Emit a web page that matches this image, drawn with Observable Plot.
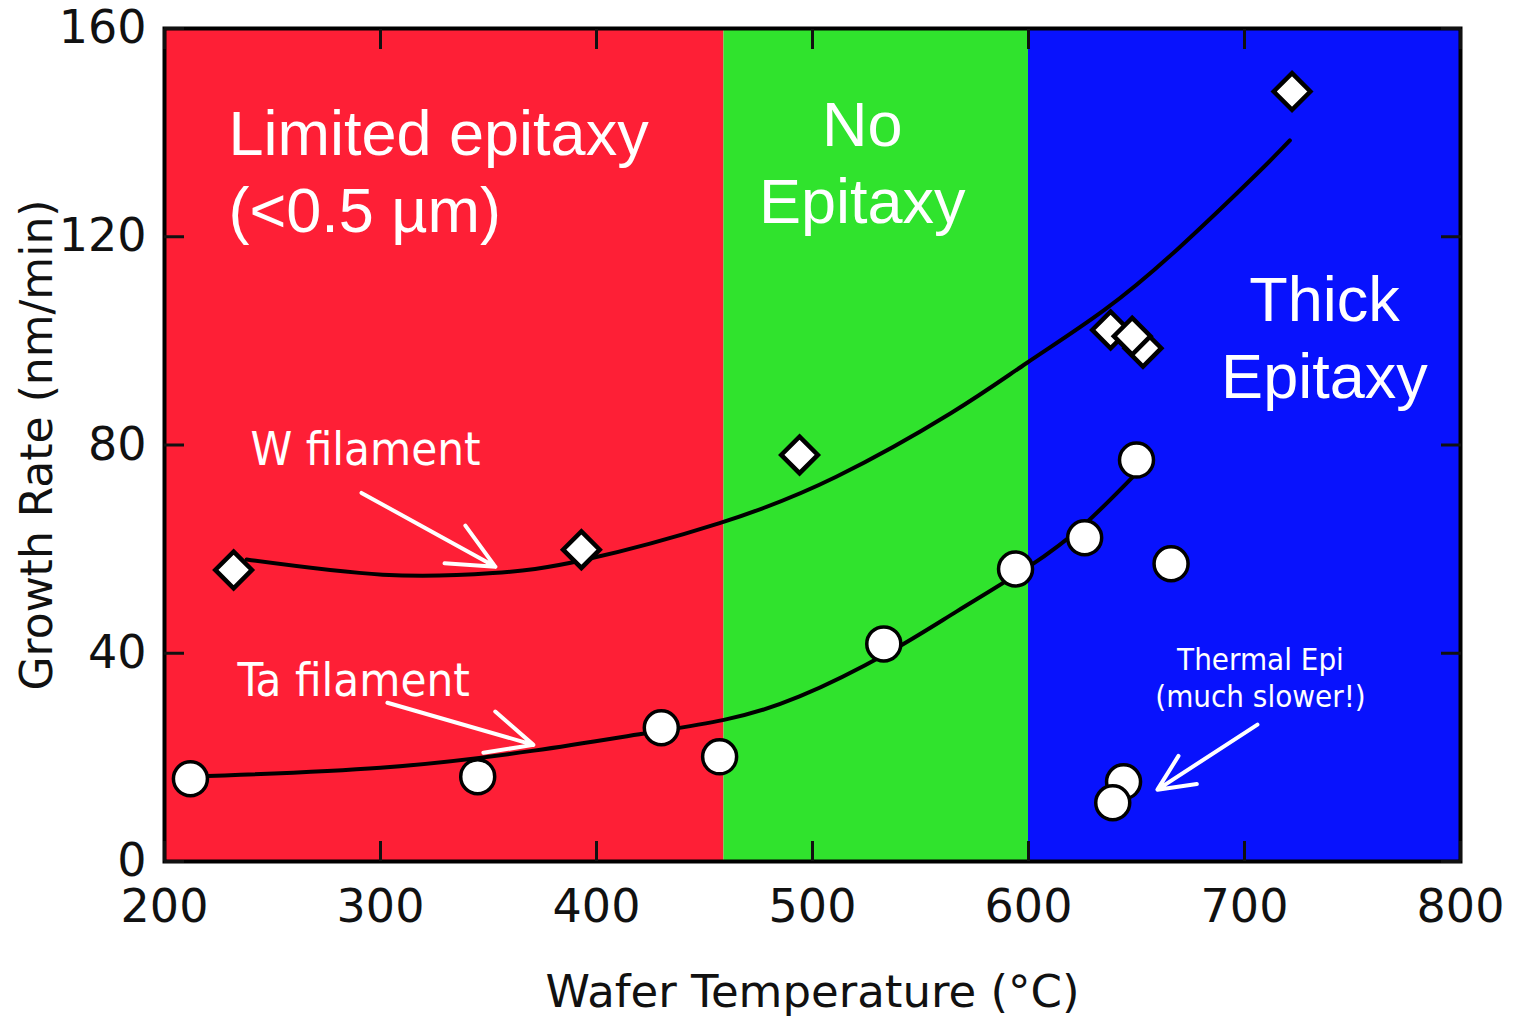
<!DOCTYPE html>
<html>
<head>
<meta charset="utf-8">
<script src="https://cdn.jsdelivr.net/npm/d3@7"></script>
<script src="https://cdn.jsdelivr.net/npm/@observablehq/plot@0.6"></script>
<style>
  html, body { margin: 0; padding: 0; background: #ffffff; }
  #chart svg { display: block; }
</style>
</head>
<body>
<div id="chart"></div>
<script>
// Growth regimes by wafer temperature
const regionNames = ["Limited epitaxy", "No epitaxy", "Thick epitaxy"];
const regionStart = [200, 459, 600];
const regionEnd = [459, 600, 800];
const regionColor = ["#fe1f36", "#30e32d", "#0812fd"];

// Measured growth rates (nm/min) — W filament
const wTemp = [232, 393, 494, 638, 653, 648, 722];
const wRate = [56.0, 59.9, 78.1, 102.1, 98.6, 100.9, 147.9];

// Measured growth rates — Ta filament
const taTemp = [212, 345, 430, 457, 533, 594, 626, 650, 666];
const taRate = [15.9, 16.3, 25.7, 20.1, 41.8, 56.2, 62.2, 77.1, 57.2];

// Thermal epitaxy (no filament)
const thermalTemp = [644, 639];
const thermalRate = [15.3, 11.3];

// Fitted trend curves
const wFitTemp = [238, 301, 352, 394, 457, 511, 564, 599, 635, 670, 706, 721];
const wFitRate = [58.0, 55.1, 55.4, 57.9, 65.0, 73.9, 86.1, 95.7, 105.9, 118.0, 132.2, 138.5];
const taFitTemp = [212, 300, 371, 422, 459, 494, 535, 567, 600, 626, 650];
const taFitRate = [16.3, 18.0, 21.3, 24.6, 27.2, 31.7, 40.1, 48.1, 56.6, 64.8, 74.6];

// Axis ticks
const xTicks = [200, 300, 400, 500, 600, 700, 800];
const yTicks = [0, 40, 80, 120, 160];

// Annotations: text and pointer arrows (temperature, rate)
const seriesLabels = ["W filament", "Ta filament"];
const seriesLabelTemp = [239.8, 233.8];
const seriesLabelRate = [79.0, 34.6];
const arrowFromTemp = [291.2, 303.2, 706.0];
const arrowFromRate = [70.8, 30.5, 26.3];
const arrowToTemp = [353.2, 370.8, 659.7];
const arrowToRate = [56.6, 22.4, 13.8];
const thermalNote = "Thermal Epi\n(much slower!)";
const thermalNoteTemp = 707.4;
const thermalNoteRate = 35.5;

const regions = regionNames.map((name, i) => ({name, start: regionStart[i], end: regionEnd[i], color: regionColor[i]}));
const pts = (xs, ys) => xs.map((t, i) => ({t, r: ys[i]}));
const arrows = arrowFromTemp.map((t, i) => ({x1: t, y1: arrowFromRate[i], x2: arrowToTemp[i], y2: arrowToRate[i]}));
const seriesText = seriesLabels.map((s, i) => ({s, t: seriesLabelTemp[i], r: seriesLabelRate[i]}));

const labelFont = "'DejaVu Sans Condensed', 'DejaVu Sans', sans-serif";
const regionFont = "'Liberation Sans', Arial, sans-serif";

const chart = Plot.plot({
  width: 1515,
  height: 1017,
  marginLeft: 164,
  marginRight: 55,
  marginTop: 28,
  marginBottom: 156,
  style: {fontFamily: "'DejaVu Sans', sans-serif", background: "#ffffff", color: "#111111", overflow: "visible"},
  x: {domain: [200, 800]},
  y: {domain: [0, 160]},
  color: {type: "identity"},
  marks: [
    Plot.rect(regions, {x1: "start", x2: "end", fill: "color"}),

    // region names
    Plot.text(["Limited epitaxy\n(<0.5 µm)"], {x: 229.6, y: 133, text: d => d, textAnchor: "start", lineAnchor: "middle", lineHeight: 1.22, fontSize: 63, fontFamily: regionFont, fill: "white"}),
    Plot.text(["No\nEpitaxy"], {x: 523, y: 134.7, text: d => d, textAnchor: "middle", lineAnchor: "middle", lineHeight: 1.22, fontSize: 63, fontFamily: regionFont, fill: "white"}),
    Plot.text(["Thick\nEpitaxy"], {x: 737, y: 101.1, text: d => d, textAnchor: "middle", lineAnchor: "middle", lineHeight: 1.22, fontSize: 63, fontFamily: regionFont, fill: "white"}),

    // series labels and pointers
    Plot.text(seriesText, {x: "t", y: "r", text: "s", textAnchor: "start", lineAnchor: "middle", fontSize: 47, fontFamily: labelFont, fill: "white"}),
    Plot.text([thermalNote], {x: thermalNoteTemp, y: thermalNoteRate, text: d => d, textAnchor: "middle", lineAnchor: "middle", lineHeight: 1.19, fontSize: 31, fontFamily: labelFont, fill: "white"}),
    Plot.arrow(arrows, {x1: "x1", y1: "y1", x2: "x2", y2: "y2", stroke: "white", strokeWidth: 4, headLength: 22, headAngle: 50}),

    // fitted curves
    Plot.line(pts(wFitTemp, wFitRate), {x: "t", y: "r", curve: "natural", stroke: "black", strokeWidth: 4}),
    Plot.line(pts(taFitTemp, taFitRate), {x: "t", y: "r", curve: "natural", stroke: "black", strokeWidth: 4}),

    // measurements
    Plot.dot(pts(wTemp, wRate), {x: "t", y: "r", symbol: "diamond2", r: 16.5, fill: "white", stroke: "black", strokeWidth: 4.5}),
    Plot.dot(pts(taTemp, taRate), {x: "t", y: "r", r: 17, fill: "white", stroke: "black", strokeWidth: 3.5}),
    Plot.dot(pts(thermalTemp, thermalRate), {x: "t", y: "r", r: 17, fill: "white", stroke: "black", strokeWidth: 3.5}),

    // frame and inward ticks on all four sides
    Plot.frame({stroke: "black", strokeWidth: 4}),
    Plot.axisX({anchor: "bottom", ticks: xTicks, tickSize: -20, tickPadding: 48, strokeWidth: 3, fontSize: 46, label: null}),
    Plot.axisX({anchor: "top", ticks: xTicks, tickSize: -20, strokeWidth: 3, fill: "none", label: null}),
    Plot.axisY({anchor: "left", ticks: yTicks, tickSize: -20, tickPadding: 38, strokeWidth: 3, fontSize: 46, label: null}),
    Plot.axisY({anchor: "right", ticks: yTicks, tickSize: -20, strokeWidth: 3, fill: "none", label: null}),

    // axis titles
    Plot.text(["Wafer Temperature (°C)"], {frameAnchor: "bottom", dy: 131, text: d => d, textAnchor: "middle", lineAnchor: "middle", fontSize: 45, fill: "#111111"}),
    Plot.text(["Growth Rate (nm/min)"], {frameAnchor: "left", dx: -127, rotate: -90, text: d => d, textAnchor: "middle", lineAnchor: "middle", fontSize: 44, fill: "#111111"})
  ]
});

document.getElementById("chart").append(chart);
</script>
</body>
</html>
